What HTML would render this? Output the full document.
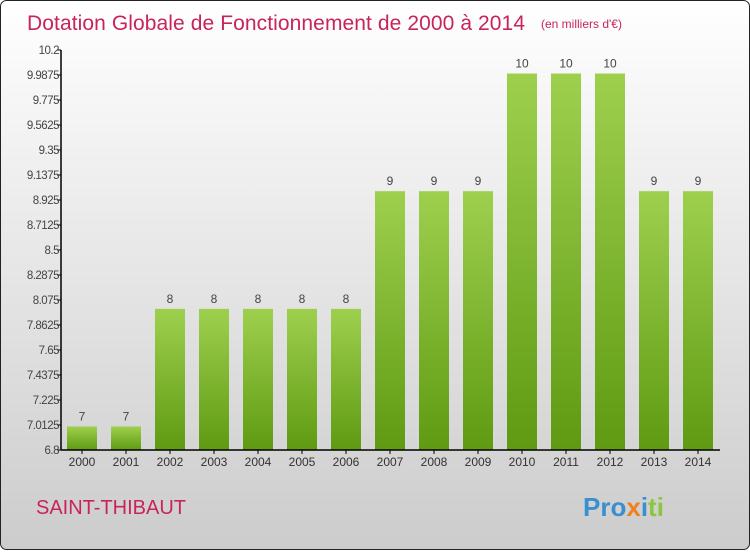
<!DOCTYPE html>
<html><head><meta charset="utf-8"><style>
body{margin:0;width:750px;height:550px;overflow:hidden;font-family:"Liberation Sans",sans-serif}
</style></head><body>
<svg width="750" height="550" xmlns="http://www.w3.org/2000/svg">
<defs>
<linearGradient id="bg" x1="0" y1="0" x2="0" y2="1"><stop offset="0" stop-color="#ffffff"/><stop offset="1" stop-color="#cccccc"/></linearGradient>
<linearGradient id="bar" x1="0" y1="0" x2="0" y2="1"><stop offset="0" stop-color="#9ed04e"/><stop offset="1" stop-color="#5f9a12"/></linearGradient>
</defs>
<rect x="0.5" y="0.5" width="749" height="549" rx="6" fill="url(#bg)" stroke="#222"/>
<text x="27" y="30" font-size="21" fill="#c8245a" textLength="498">Dotation Globale de Fonctionnement de 2000 à 2014</text>
<text x="541" y="28" font-size="12" fill="#c8245a">(en milliers d'€)</text>
<text x="36" y="514" font-size="20" fill="#c8245a">SAINT-THIBAUT</text>
<text x="583" y="516" font-size="26" font-weight="bold"><tspan fill="#3a8fd0">Pro</tspan><tspan fill="#f08020">x</tspan><tspan fill="#3a8fd0">i</tspan><tspan fill="#8cc63f">ti</tspan></text>
<g id="plot"></g>
</svg>
<script>
const categories=["2000","2001","2002","2003","2004","2005","2006","2007","2008","2009","2010","2011","2012","2013","2014"];
const values=[7,7,8,8,8,8,8,9,9,9,10,10,10,9,9];
const ticks=["6.8","7.0125","7.225","7.4375","7.65","7.8625","8.075","8.2875","8.5","8.7125","8.925","9.1375","9.35","9.5625","9.775","9.9875","10.2"];
const yMin=6.8,yMax=10.2,y0=450,y1=50,x0=61;
const ns="http://www.w3.org/2000/svg";
const g=document.getElementById('plot');
function y(v){return y0-(v-yMin)/(yMax-yMin)*(y0-y1);}
function xc(i){return 82+44*i;}
function mk(t,a,txt){const e=document.createElementNS(ns,t);for(const k in a)e.setAttribute(k,a[k]);if(txt!==undefined)e.textContent=txt;g.appendChild(e);return e;}
values.forEach((v,i)=>{
 const r=mk('rect',{x:xc(i)-15,y:y(v),width:30,height:y0-y(v),fill:'url(#bar)'});
 
 
 const t=mk('text',{x:xc(i),y:y(v)-6,'font-size':12,fill:'#444','text-anchor':'middle'},String(v));
 
 
 const c=mk('text',{x:xc(i),y:y0+16,'font-size':12,fill:'#333','text-anchor':'middle'},categories[i]);
 
 
 const tk=mk('line',{x1:xc(i),x2:xc(i),y1:y0,y2:y0+4,stroke:'#000'});
 
 
});
ticks.forEach(s=>{
 const yy=y(parseFloat(s));
 const l=mk('line',{x1:x0-4,x2:x0,y1:yy,y2:yy,stroke:'#000'});
 
 
 const t=mk('text',{x:x0-2,y:yy+4,'font-size':11.5,fill:'#444','text-anchor':'end','letter-spacing':'-0.5'},s);
 
 
});
const ya=mk('line',{x1:x0,x2:x0,y1:y1,y2:y0,stroke:'#000','stroke-width':1.5});


const xa=mk('line',{x1:x0,x2:720,y1:y0,y2:y0,stroke:'#000','stroke-width':1.5});


</script>
</body></html>
